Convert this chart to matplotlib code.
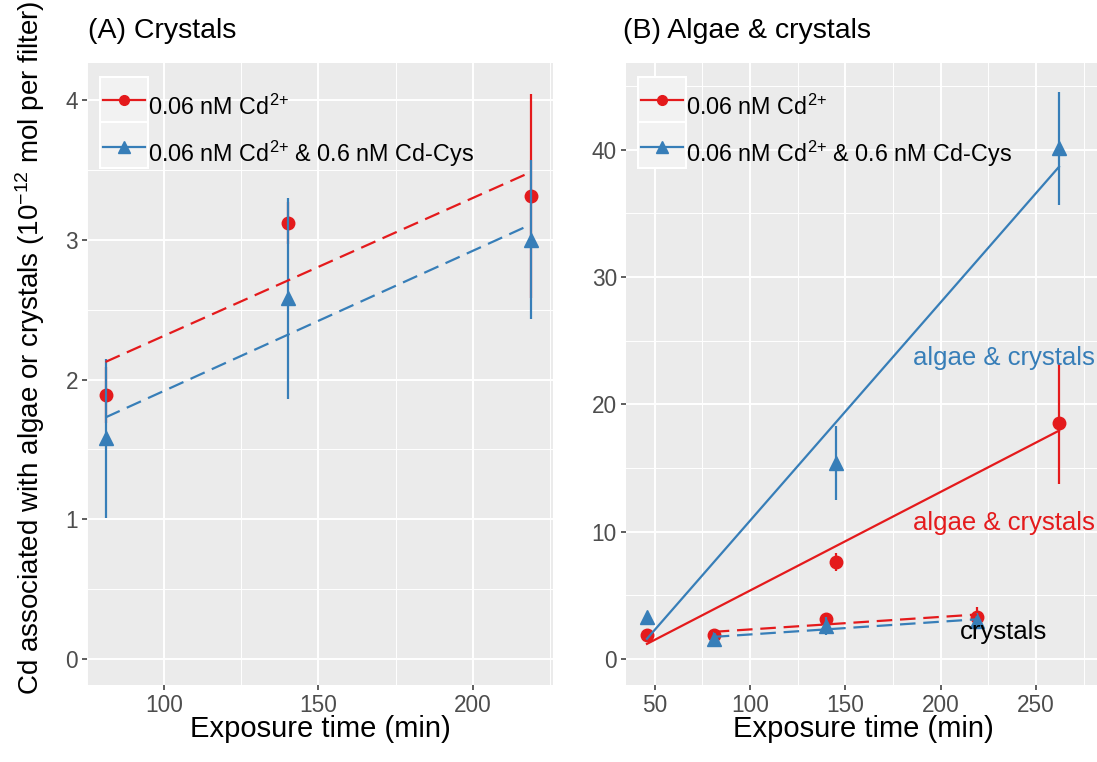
import numpy as np
import matplotlib
matplotlib.use("Agg")
import matplotlib.pyplot as plt
from matplotlib.lines import Line2D
from matplotlib.patches import Rectangle

plt.rcParams['font.family'] = ['Liberation Sans', 'DejaVu Sans']
plt.rcParams['mathtext.default'] = 'regular'

# ---------------- data ----------------
cryst_time = [81, 140, 219]
cryst_cd = [1.89, 3.12, 3.31]
cryst_cd_err = [0.20, 0.15, 0.73]
cryst_cys = [1.58, 2.58, 3.00]
cryst_cys_err = [0.57, 0.72, 0.57]

algae_time = [46, 145, 262]
algae_cd = [1.86, 7.6, 18.5]
algae_cd_err = [0.25, 0.7, 4.75]
algae_cys = [3.3, 15.4, 40.1]
algae_cys_err = [0.25, 2.9, 4.45]

label_cd = "0.06 nM Cd$^{2{+}}$"
label_cys = "0.06 nM Cd$^{2{+}}$ & 0.6 nM Cd-Cys"

RED = "#E41A1C"
BLUE = "#377EB8"
W, H = 1097, 762

fig = plt.figure(figsize=(W / 100, H / 100), dpi=100)

def fx(px):
    return px / W

def fy(py):
    return 1 - py / H

axA = fig.add_axes([fx(87), fy(685), fx(553) - fx(87), fy(63) - fy(685)])
axB = fig.add_axes([fx(626), fy(685), fx(1100) - fx(626), fy(63) - fy(685)])

dash = (0, (7, 3.5))

def style(ax, xlim, ylim, xmaj, xmin, ymaj, ymin):
    ax.set_facecolor("#EBEBEB")
    for s in ax.spines.values():
        s.set_visible(False)
    ax.set_xlim(*xlim)
    ax.set_ylim(*ylim)
    ax.set_xticks(xmaj)
    ax.set_xticks(xmin, minor=True)
    ax.set_yticks(ymaj)
    ax.set_yticks(ymin, minor=True)
    ax.set_axisbelow(True)
    ax.grid(which="major", color="white", lw=1.4)
    ax.grid(which="minor", color="white", lw=0.7)
    ax.tick_params(which="major", length=3.5, width=1.1, color="#333333",
                   labelsize=16.3, labelcolor="#4D4D4D", pad=3)
    ax.tick_params(which="minor", length=0)

def poly_line(ax, x, y, color, ls):
    p = np.polyfit(x, y, 1)
    xx = np.array([min(x), max(x)])
    ax.plot(xx, np.polyval(p, xx), color=color, lw=1.6, ls=ls, zorder=4)

def points(ax, x, y, e, color, marker, ms):
    ax.errorbar(x, y, yerr=e, fmt="none", ecolor=color, elinewidth=1.6, capsize=0, zorder=3)
    ax.plot(x, y, ls="none", marker=marker, color=color, ms=ms, zorder=3)

# Panel A
style(axA, (75, 226), (-0.186, 4.265), [100, 150, 200], [75, 125, 175, 225],
      [0, 1, 2, 3, 4], [0.5, 1.5, 2.5, 3.5])
points(axA, cryst_time, cryst_cd, cryst_cd_err, RED, "o", 9)
points(axA, cryst_time, cryst_cys, cryst_cys_err, BLUE, "^", 10.5)
poly_line(axA, cryst_time, cryst_cd, RED, dash)
poly_line(axA, cryst_time, cryst_cys, BLUE, dash)

# Panel B
style(axB, (35, 283.5), (-2.05, 46.8), [50, 100, 150, 200, 250], [75, 125, 175, 225, 275],
      [0, 10, 20, 30, 40], [5, 15, 25, 35, 45])
points(axB, algae_time, algae_cd, algae_cd_err, RED, "o", 9)
points(axB, cryst_time, cryst_cd, cryst_cd_err, RED, "o", 9)
points(axB, algae_time, algae_cys, algae_cys_err, BLUE, "^", 10.5)
points(axB, cryst_time, cryst_cys, cryst_cys_err, BLUE, "^", 10.5)
poly_line(axB, algae_time, algae_cd, RED, "-")
poly_line(axB, algae_time, algae_cys, BLUE, "-")
poly_line(axB, cryst_time, cryst_cd, RED, dash)
poly_line(axB, cryst_time, cryst_cys, BLUE, dash)

axB.text(233, 23.6, "algae & crystals", color=BLUE, fontsize=18.5, ha="center", va="center", zorder=5)
axB.text(233, 10.7, "algae & crystals", color=RED, fontsize=18.5, ha="center", va="center", zorder=5)
axB.text(233, 2.1, "crystals", color="black", fontsize=18.5, ha="center", va="center", zorder=5)

# Legends
def legend(ax, x0):
    for (t, b) in [(77, 122.5), (122.5, 168)]:
        r = Rectangle((fx(x0), fy(b)), fx(x0 + 48) - fx(x0), fy(t) - fy(b),
                      transform=fig.transFigure, facecolor="#F2F2F2", edgecolor="white",
                      lw=1.5, zorder=1, clip_on=False)
        ax.add_patch(r)
    handles = [Line2D([], [], color=RED, marker="o", ms=7, lw=1.6),
               Line2D([], [], color=BLUE, marker="^", ms=9, lw=1.6)]
    fs = 16.8
    em = fs * 100 / 72
    row = 46.5 / em
    hh = (row - 0.245) / 0.65
    inv = ax.transAxes.inverted()
    ax_pt = inv.transform(fig.transFigure.transform((fx(x0 + 3), fy(85))))
    ax.legend(handles, [label_cd, label_cys], loc="upper left", bbox_to_anchor=tuple(ax_pt),
              frameon=False, fontsize=fs, borderpad=0, borderaxespad=0,
              handlelength=42 / em, handleheight=hh, labelspacing=0,
              handletextpad=3 / em, numpoints=1)

legend(axA, 100)
legend(axB, 638)

# Titles and axis labels
fig.text(fx(88), fy(31), "(A) Crystals", fontsize=20.5, ha="left", va="center")
fig.text(fx(623), fy(31), "(B) Algae & crystals", fontsize=20.5, ha="left", va="center")
fig.text(fx((87 + 553) / 2), fy(729), "Exposure time (min)", fontsize=21, ha="center", va="center")
fig.text(fx((626 + 1100) / 2), fy(729), "Exposure time (min)", fontsize=21, ha="center", va="center")
fig.text(fx(30), fy(348), "Cd associated with algae or crystals (10$^{\u221212}$ mol per filter)",
         fontsize=20, rotation=90, ha="center", va="center")

fig.savefig("out.png", dpi=100)
